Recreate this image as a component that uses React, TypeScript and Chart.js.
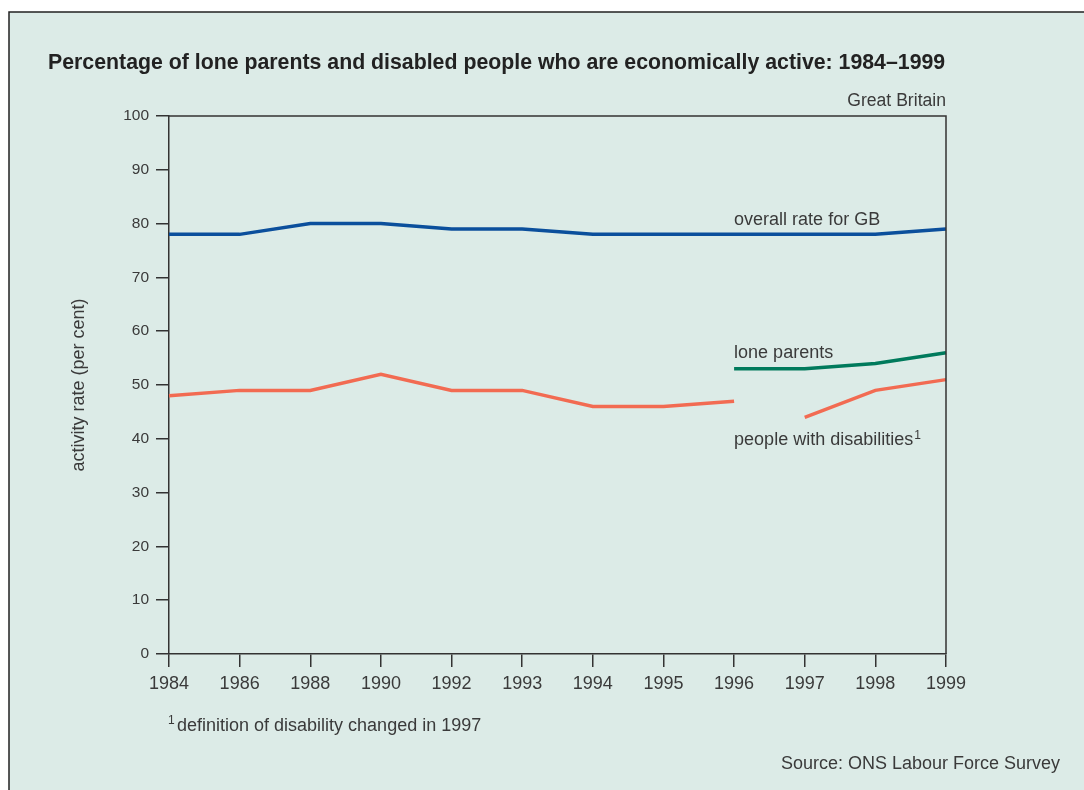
import React, { useEffect, useRef } from "react";
import { Chart, registerables } from "chart.js";

Chart.register(...registerables);

const years = ["1984", "1986", "1988", "1990", "1992", "1993", "1994", "1995", "1996", "1997", "1998", "1999"];
const overallRate = [78, 78, 80, 80, 79, 79, 78, 78, 78, 78, 78, 79];
const loneParents = [null, null, null, null, null, null, null, null, 53, 53, 54, 56];
// Disability series is split in two: the definition changed in 1997
const disabilitiesOld = [48, 49, 49, 52, 49, 49, 46, 46, 47, null, null, null];
const disabilitiesNew = [null, null, null, null, null, null, null, null, null, 44, 49, 51];
const yTicks = [0, 10, 20, 30, 40, 50, 60, 70, 80, 90, 100];

const FONT = "'Liberation Sans', Arial, Helvetica, sans-serif";
const TEXT = "#3a3a3a";
const BLUE = "#0b4f9c";
const GREEN = "#007a5c";
const CORAL = "#f26b52";

const W = 1084;
const H = 790;

const backgroundPanel = {
  id: "backgroundPanel",
  beforeDraw(chart: any) {
    const ctx = chart.ctx;
    ctx.save();
    ctx.fillStyle = "#ffffff";
    ctx.fillRect(0, 0, W, H);
    ctx.fillStyle = "#dcebe7";
    ctx.fillRect(9, 12, W - 9, H - 12);
    ctx.strokeStyle = "#222222";
    ctx.lineWidth = 1.5;
    ctx.beginPath();
    ctx.moveTo(9, H);
    ctx.lineTo(9, 12);
    ctx.lineTo(W, 12);
    ctx.stroke();
    ctx.restore();
  },
};

const frameAndText = {
  id: "frameAndText",
  afterDraw(chart: any) {
    const ctx = chart.ctx;
    const { left, right, top, bottom } = chart.chartArea;
    const x = chart.scales.x;
    const y = chart.scales.y;
    ctx.save();

    // top and right frame lines
    ctx.strokeStyle = "#333333";
    ctx.lineWidth = 1.5;
    ctx.beginPath();
    ctx.moveTo(left, top);
    ctx.lineTo(right, top);
    ctx.lineTo(right, bottom);
    ctx.stroke();

    // title
    ctx.fillStyle = "#222222";
    ctx.textBaseline = "alphabetic";
    ctx.textAlign = "left";
    ctx.font = `bold 21.3px ${FONT}`;
    ctx.fillText("Percentage of lone parents and disabled people who are economically active: 1984\u20131999", 48, 69);

    ctx.fillStyle = TEXT;
    ctx.font = `17.6px ${FONT}`;
    ctx.textAlign = "right";
    ctx.fillText("Great Britain", right, 106);

    // series labels
    const lx = x.getPixelForValue(8);
    ctx.textAlign = "left";
    ctx.font = `18px ${FONT}`;
    ctx.fillText("overall rate for GB", lx, y.getPixelForValue(78) - 9);
    ctx.fillText("lone parents", lx, y.getPixelForValue(53) - 11);
    const dy = y.getPixelForValue(46) + 38;
    const dText = "people with disabilities";
    ctx.fillText(dText, lx, dy);
    const dw = ctx.measureText(dText).width;
    ctx.font = `12px ${FONT}`;
    ctx.fillText("1", lx + dw + 1, dy - 6);

    // y axis title
    ctx.save();
    ctx.translate(84, (top + bottom) / 2);
    ctx.rotate(-Math.PI / 2);
    ctx.textAlign = "center";
    ctx.font = `18px ${FONT}`;
    ctx.fillText("activity rate (per cent)", 0, 0);
    ctx.restore();

    // footnote and source
    ctx.textAlign = "left";
    ctx.font = `12px ${FONT}`;
    ctx.fillText("1", 168, 724);
    ctx.font = `18px ${FONT}`;
    ctx.fillText("definition of disability changed in 1997", 177, 731);
    ctx.textAlign = "right";
    ctx.fillText("Source: ONS Labour Force Survey", 1060, 769);

    ctx.restore();
  },
};

export default function App() {
  const canvasRef = useRef<HTMLCanvasElement | null>(null);

  useEffect(() => {
    const canvas = canvasRef.current;
    if (!canvas) return;
    const lineStyle = { pointRadius: 0, pointHoverRadius: 0, borderWidth: 3.5, tension: 0, spanGaps: false, fill: false };
    const axisGrid = {
      display: true,
      drawOnChartArea: false,
      drawTicks: true,
      tickLength: 13,
      color: "#333333",
      lineWidth: 1.5,
    };
    const chart = new Chart(canvas, {
      type: "line",
      data: {
        labels: years,
        datasets: [
          { label: "overall rate for GB", data: overallRate, borderColor: BLUE, backgroundColor: BLUE, ...lineStyle },
          { label: "lone parents", data: loneParents, borderColor: GREEN, backgroundColor: GREEN, ...lineStyle },
          { label: "people with disabilities", data: disabilitiesOld, borderColor: CORAL, backgroundColor: CORAL, ...lineStyle },
          { label: "people with disabilities (new definition)", data: disabilitiesNew, borderColor: CORAL, backgroundColor: CORAL, ...lineStyle },
        ],
      },
      options: {
        responsive: false,
        animation: false,
        devicePixelRatio: 1,
        layout: { padding: { left: 0, top: 116, right: 138, bottom: 0 } },
        plugins: { legend: { display: false }, title: { display: false }, tooltip: { enabled: false } },
        scales: {
          x: {
            type: "category",
            offset: false,
            grid: axisGrid,
            border: { display: true, color: "#333333", width: 1.5 },
            ticks: { color: TEXT, font: { family: FONT, size: 18 }, padding: 6, maxRotation: 0, autoSkip: false },
            afterFit(scale: any) {
              scale.height = 136;
            },
          },
          y: {
            min: 0,
            max: 100,
            afterBuildTicks(scale: any) {
              scale.ticks = yTicks.map((v) => ({ value: v }));
            },
            grid: axisGrid,
            border: { display: true, color: "#333333", width: 1.5 },
            ticks: { color: TEXT, font: { family: FONT, size: 15.5 }, padding: 7 },
            afterFit(scale: any) {
              scale.width = 169;
            },
          },
        },
      },
      plugins: [backgroundPanel, frameAndText],
    });
    return () => chart.destroy();
  }, []);

  return (
    <div style={{ position: "fixed", left: 0, top: 0, width: W, height: H }}>
      <canvas ref={canvasRef} width={W} height={H} style={{ display: "block" }} />
    </div>
  );
}
